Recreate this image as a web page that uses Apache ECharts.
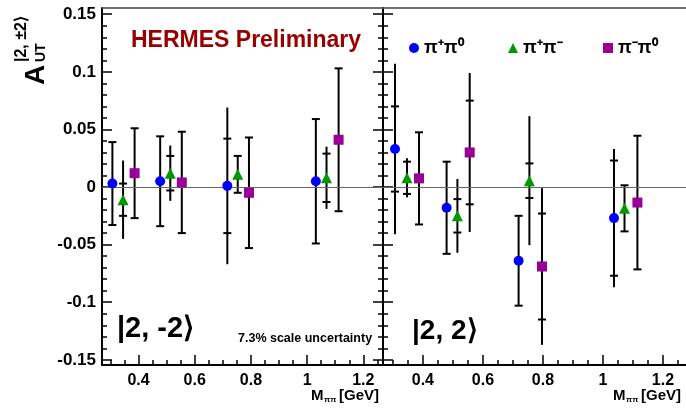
<!DOCTYPE html>
<html lang="en">
<head>
    <meta charset="UTF-8">
    <title>A_UT |2,±2> vs M_pipi</title>
    <script src="https://cdn.jsdelivr.net/npm/echarts@6/dist/echarts.min.js"></script>
    <style>
        html, body { margin: 0; padding: 0; background: #fff; }
        #main { width: 686px; height: 409px; }
    </style>
</head>
<body>
    <div id="main"></div>
    <script>
        // ---- |2,-2> panel (left) ----
        var leftBlueX = [0.307, 0.477, 0.716, 1.031];
        var leftBlueY = [0.003, 0.005, 0.001, 0.005];
        var leftBlueStat = [0.036, 0.039, 0.041, 0.054];
        var leftBlueTot = [0.036, 0.039, 0.068, 0.054];

        var leftGreenX = [0.345, 0.513, 0.753, 1.069];
        var leftGreenY = [-0.011, 0.012, 0.011, 0.008];
        var leftGreenStat = [0.014, 0.015, 0.016, 0.021];
        var leftGreenTot = [0.034, 0.024, 0.016, 0.027];

        var leftMagX = [0.386, 0.554, 0.793, 1.112];
        var leftMagY = [0.012, 0.004, -0.005, 0.041];
        var leftMagStat = [0.039, 0.044, 0.048, 0.062];
        var leftMagTot = [0.039, 0.044, 0.048, 0.062];

        // ---- |2,2> panel (right) ----
        var rightBlueX = [0.307, 0.479, 0.719, 1.037];
        var rightBlueY = [0.033, -0.018, -0.064, -0.027];
        var rightBlueStat = [0.037, 0.040, 0.039, 0.050];
        var rightBlueTot = [0.074, 0.040, 0.039, 0.060];

        var rightGreenX = [0.347, 0.515, 0.755, 1.072];
        var rightGreenY = [0.008, -0.025, 0.0055, -0.0185];
        var rightGreenStat = [0.014, 0.0145, 0.015, 0.020];
        var rightGreenTot = [0.017, 0.032, 0.056, 0.020];

        var rightMagX = [0.387, 0.556, 0.797, 1.115];
        var rightMagY = [0.0075, 0.030, -0.069, -0.0135];
        var rightMagStat = [0.040, 0.045, 0.046, 0.058];
        var rightMagTot = [0.040, 0.069, 0.068, 0.058];

        // ticks
        var yMajor = [-0.15, -0.1, -0.05, 0, 0.05, 0.1, 0.15];
        var xMajor = [0.4, 0.6, 0.8, 1, 1.2];
        var yMinor = [];
        for (var i = -15; i <= 15; i++) yMinor.push(i / 100);
        var xMinor = [];
        for (var j = 6; j <= 25; j++) xMinor.push(j * 0.05);

        var FONT = 'Liberation Sans';
        var names = ['π⁺π⁰', 'π⁺π⁻', 'π⁻π⁰'];
        var colors = ['#0000ff', '#009900', '#990099'];
        var symbols = ['circle', 'triangle', 'rect'];
        var sizes = [10, 11, 10];

        function errorBars(xi, yi, xs, ys, stat, tot) {
            return {
                type: 'custom',
                xAxisIndex: xi,
                yAxisIndex: yi,
                silent: true,
                z: 3,
                data: xs.map(function (x, i) { return [x, ys[i], stat[i], tot[i]]; }),
                renderItem: function (params, api) {
                    var x = api.value(0), y = api.value(1), s = api.value(2), t = api.value(3);
                    var a = api.coord([x, y + t]), b = api.coord([x, y - t]);
                    var c = api.coord([x, y + s]), d = api.coord([x, y - s]);
                    var st = { stroke: '#000', lineWidth: 2 };
                    return {
                        type: 'group',
                        children: [
                            { type: 'line', shape: { x1: a[0], y1: a[1], x2: b[0], y2: b[1] }, style: st },
                            { type: 'line', shape: { x1: c[0] - 4, y1: c[1], x2: c[0] + 4, y2: c[1] }, style: st },
                            { type: 'line', shape: { x1: d[0] - 4, y1: d[1], x2: d[0] + 4, y2: d[1] }, style: st }
                        ]
                    };
                }
            };
        }

        function points(k, xi, yi, xs, ys, zeroLine) {
            var s = {
                type: 'scatter',
                name: names[k],
                xAxisIndex: xi,
                yAxisIndex: yi,
                symbol: symbols[k],
                symbolSize: sizes[k],
                itemStyle: { color: colors[k], opacity: 1 },
                z: 5,
                data: xs.map(function (x, i) { return [x, ys[i]]; })
            };
            if (zeroLine) {
                s.markLine = {
                    silent: true,
                    symbol: 'none',
                    label: { show: false },
                    lineStyle: { color: '#666', width: 1.2, type: 'solid' },
                    data: [{ yAxis: 0 }]
                };
            }
            return s;
        }

        function xAxes(grid, min, max) {
            var base = { gridIndex: grid, type: 'value', min: min, max: max, splitLine: { show: false } };
            return [
                Object.assign({}, base, {
                    position: 'bottom',
                    axisLine: { onZero: false, lineStyle: { color: '#000', width: 2 } },
                    axisTick: { inside: true, length: 10, customValues: xMajor, lineStyle: { color: '#000', width: 1.5 } },
                    axisLabel: {
                        customValues: xMajor, margin: 8, color: '#000',
                        fontFamily: FONT, fontWeight: 'bold', fontSize: 16
                    }
                }),
                Object.assign({}, base, {
                    position: 'bottom',
                    axisLine: { show: false, onZero: false },
                    axisTick: { inside: true, length: 5, customValues: xMinor, lineStyle: { color: '#000', width: 1.5 } },
                    axisLabel: { show: false }
                }),
                Object.assign({}, base, {
                    position: 'top',
                    axisLine: { onZero: false, lineStyle: { color: '#444', width: 1.5 } },
                    axisTick: { show: false },
                    axisLabel: { show: false }
                })
            ];
        }

        function yAxis(grid, pos, major, labels) {
            return {
                gridIndex: grid, type: 'value', position: pos,
                min: -0.1545, max: 0.1554,
                splitLine: { show: false },
                axisLine: { show: major, onZero: false, lineStyle: { color: '#000', width: 2 } },
                axisTick: {
                    inside: true, length: major ? 10 : 5,
                    customValues: major ? yMajor : yMinor,
                    lineStyle: { color: '#000', width: 1.5 }
                },
                axisLabel: labels ? {
                    customValues: yMajor, margin: 6, color: '#000',
                    fontFamily: FONT, fontWeight: 'bold', fontSize: 17,
                    formatter: function (v) { return String(v); }
                } : { show: false }
            };
        }

        function legendItem(k, left) {
            return {
                data: [{ name: names[k], icon: symbols[k] }],
                left: left, top: 34,
                itemWidth: 10, itemHeight: 10,
                selectedMode: false,
                textStyle: { color: '#000', fontFamily: FONT, fontWeight: 'bold', fontSize: 18 }
            };
        }

        function txt(x, y, text, size, extra) {
            return {
                type: 'text', x: x, y: y, silent: true,
                style: Object.assign({
                    text: text, fill: '#000', fontFamily: FONT, fontWeight: 'bold', fontSize: size,
                    textAlign: 'left', textVerticalAlign: 'middle'
                }, extra || {})
            };
        }

        var chart = echarts.init(document.getElementById('main'));
        var option = {
            animation: false,
            backgroundColor: '#fff',
            grid: [
                { left: 102, top: 8, width: 281, height: 357, outerBoundsMode: 'none' },
                { left: 383, top: 8, width: 310, height: 357, outerBoundsMode: 'none' }
            ],
            xAxis: xAxes(0, 0.27, 1.27).concat(xAxes(1, 0.267, 1.3003)),
            yAxis: [
                yAxis(0, 'left', true, true),
                yAxis(0, 'left', false, false),
                yAxis(0, 'right', true, false),
                yAxis(0, 'right', false, false),
                yAxis(1, 'left', true, false),
                yAxis(1, 'left', false, false)
            ],
            legend: [legendItem(0, 404), legendItem(1, 503), legendItem(2, 598)],
            series: [
                errorBars(0, 0, leftBlueX, leftBlueY, leftBlueStat, leftBlueTot),
                errorBars(0, 0, leftGreenX, leftGreenY, leftGreenStat, leftGreenTot),
                errorBars(0, 0, leftMagX, leftMagY, leftMagStat, leftMagTot),
                points(0, 0, 0, leftBlueX, leftBlueY, true),
                points(1, 0, 0, leftGreenX, leftGreenY, false),
                points(2, 0, 0, leftMagX, leftMagY, false),
                errorBars(3, 4, rightBlueX, rightBlueY, rightBlueStat, rightBlueTot),
                errorBars(3, 4, rightGreenX, rightGreenY, rightGreenStat, rightGreenTot),
                errorBars(3, 4, rightMagX, rightMagY, rightMagStat, rightMagTot),
                points(0, 3, 4, rightBlueX, rightBlueY, true),
                points(1, 3, 4, rightGreenX, rightGreenY, false),
                points(2, 3, 4, rightMagX, rightMagY, false)
            ],
            graphic: [
                // y-axis title
                Object.assign(txt(36, 75, 'A', 28, { textAlign: 'center' }), { rotation: Math.PI / 2 }),
                Object.assign(txt(41, 62, 'UT', 14), { rotation: Math.PI / 2 }),
                Object.assign(txt(22, 62, '|2, ±2\u27E9', 16), { rotation: Math.PI / 2 }),
                // labels
                txt(131, 41, 'HERMES Preliminary', 23, { fill: '#990000' }),
                txt(117, 329, '|2, -2\u27E9', 29),
                txt(412, 331, '|2, 2\u27E9', 28),
                txt(238, 339, '7.3% scale uncertainty', 12.5),
                // x-axis titles
                txt(311, 396, 'M', 15),
                txt(324, 400, 'ππ', 8),
                txt(339, 396, '[GeV]', 15),
                txt(613, 396, 'M', 15),
                txt(626, 400, 'ππ', 8),
                txt(641, 396, '[GeV]', 15)
            ]
        };
        chart.setOption(option);
    </script>
</body>
</html>
